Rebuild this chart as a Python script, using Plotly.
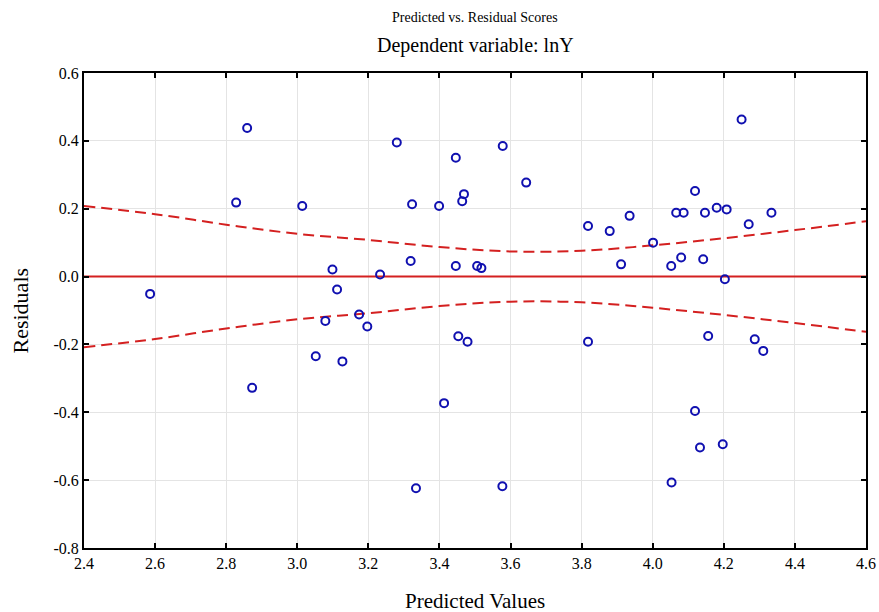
import plotly.graph_objects as go

# Observed points (predicted value, residual)
predicted = [2.586, 2.828, 2.859, 2.873, 3.014, 3.099, 3.112, 3.052, 3.079, 3.127,
             3.174, 3.197, 3.233, 3.334, 3.280, 3.323, 3.319, 3.399, 3.446, 3.446,
             3.469, 3.464, 3.506, 3.518, 3.578, 3.644, 3.453, 3.413, 3.479, 3.577,
             3.818, 3.818, 3.879, 3.935, 3.911, 4.001, 4.052, 4.066, 4.087, 4.080,
             4.119, 4.147, 4.142, 4.180, 4.208, 4.250, 4.270, 4.334, 4.053, 4.119,
             4.133, 4.197, 4.156, 4.287, 4.311, 4.203]
residuals = [-0.051, 0.218, 0.438, -0.328, 0.208, 0.021, -0.038, -0.235, -0.131, -0.250,
             -0.112, -0.147, 0.006, -0.624, 0.395, 0.213, 0.046, 0.208, 0.350, 0.031,
             0.243, 0.222, 0.031, 0.025, 0.385, 0.277, -0.176, -0.373, -0.192, -0.618,
             -0.192, 0.149, 0.134, 0.179, 0.036, 0.100, 0.031, 0.188, 0.188, 0.056,
             0.252, 0.188, 0.051, 0.203, 0.198, 0.463, 0.154, 0.188, -0.607, -0.396,
             -0.504, -0.494, -0.175, -0.185, -0.219, -0.008]

# Confidence band half-width read at x ticks
band_x = [2.4, 2.6, 2.8, 3.0, 3.2, 3.4, 3.6, 3.8, 4.0, 4.2, 4.4, 4.6]
band_hw = [0.208, 0.184, 0.153, 0.126, 0.108, 0.087, 0.074, 0.076, 0.092, 0.113, 0.137, 0.163]

x_ticks = [2.4, 2.6, 2.8, 3.0, 3.2, 3.4, 3.6, 3.8, 4.0, 4.2, 4.4, 4.6]
y_ticks = [-0.8, -0.6, -0.4, -0.2, 0.0, 0.2, 0.4, 0.6]

red = "#d42020"
blue = "#1010b0"
font_fam = "Liberation Serif, Times New Roman, serif"

fig = go.Figure()
fig.add_trace(go.Scatter(x=band_x, y=band_hw, mode="lines",
                         line=dict(color=red, width=2, dash="11px,6px", shape="spline"),
                         showlegend=False))
fig.add_trace(go.Scatter(x=band_x, y=[-v for v in band_hw], mode="lines",
                         line=dict(color=red, width=2, dash="11px,6px", shape="spline"),
                         showlegend=False))
fig.add_trace(go.Scatter(x=[band_x[0], band_x[-1]], y=[0, 0], mode="lines",
                         line=dict(color=red, width=2), showlegend=False))
fig.add_trace(go.Scatter(x=predicted, y=residuals, mode="markers",
                         marker=dict(symbol="circle-open", size=8, color=blue,
                                     line=dict(color=blue, width=2)),
                         showlegend=False, cliponaxis=False))

axis_common = dict(showline=True, linecolor="black", linewidth=2, mirror="ticks",
                   ticks="inside", ticklen=5, tickwidth=1.5, tickcolor="black",
                   showgrid=True, gridcolor="#e4e4e4", gridwidth=1, zeroline=False,
                   automargin=False,
                   tickfont=dict(family=font_fam, size=16, color="black"))

fig.update_xaxes(range=[2.4, 4.6], tickvals=x_ticks,
                 ticktext=[f"{v:.1f}" for v in x_ticks], **axis_common)
fig.update_yaxes(range=[-0.8, 0.6], tickvals=y_ticks,
                 ticktext=[f"{v:.1f}" for v in y_ticks], **axis_common)

fig.update_layout(
    width=879, height=612,
    margin=dict(l=84, r=13, t=73, b=64, autoexpand=False),
    plot_bgcolor="white", paper_bgcolor="white",
    font=dict(family=font_fam, color="black"),
    annotations=[
        dict(text="Predicted vs. Residual Scores", xref="paper", yref="paper",
             x=0.5, y=1, yshift=56, showarrow=False, font=dict(size=14),
             xanchor="center", yanchor="middle"),
        dict(text="Dependent variable: lnY", xref="paper", yref="paper",
             x=0.5, y=1, yshift=28, showarrow=False, font=dict(size=20),
             xanchor="center", yanchor="middle"),
        dict(text="Residuals", xref="paper", yref="paper", x=0, y=0.5,
             xshift=-64, textangle=-90, showarrow=False, font=dict(size=22),
             xanchor="center", yanchor="middle"),
        dict(text="Predicted Values", xref="paper", yref="paper", x=0.5, y=0,
             yshift=-53, showarrow=False, font=dict(size=21),
             xanchor="center", yanchor="middle"),
    ],
)

fig.write_html("out.html")
